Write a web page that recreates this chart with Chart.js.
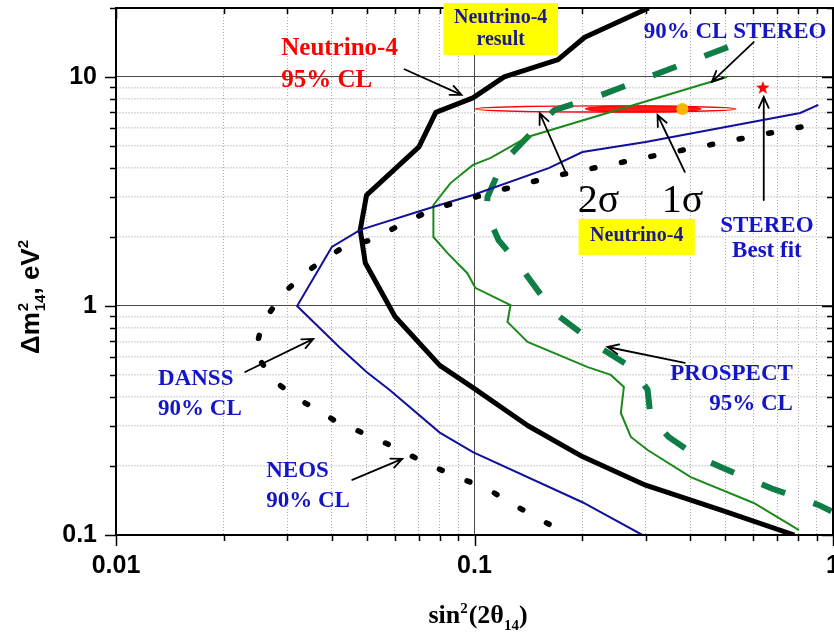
<!DOCTYPE html>
<html>
<head>
<meta charset="utf-8">
<script src="https://cdn.jsdelivr.net/npm/chart.js@4.4.0/dist/chart.umd.min.js"></script>
<style>
  html, body { margin: 0; padding: 0; background: #fff; }
  #wrap { width: 834px; height: 638px; }
</style>
</head>
<body>
<div id="wrap"><canvas id="exclusion"></canvas></div>
<script>
// Neutrino-4 95% CL contour
n4X = [0.306, 0.203, 0.171, 0.121, 0.099, 0.078, 0.070, 0.050, 0.048, 0.0496, 0.060, 0.080, 0.099, 0.141, 0.20, 0.30, 0.49, 0.78]
n4Y = [20, 14.9, 11.9, 10.0, 8.1, 7.0, 4.95, 3.05, 2.15, 1.54, 0.90, 0.55, 0.44, 0.30, 0.22, 0.165, 0.128, 0.1]

// DANSS 90% CL
dansX = [0.91, 0.81, 0.30, 0.20, 0.161, 0.099, 0.077, 0.048, 0.040, 0.032, 0.042, 0.050, 0.058, 0.080, 0.099, 0.20, 0.294]
dansY = [7.55, 6.96, 5.2, 4.7, 4.0, 3.05, 2.71, 2.15, 1.81, 1.0, 0.66, 0.515, 0.43, 0.28, 0.23, 0.139, 0.1]

// NEOS 90% CL
neosX = [0.814, 0.304, 0.168, 0.113, 0.0768, 0.0634, 0.0523, 0.0422, 0.0353, 0.0293, 0.0256, 0.0244, 0.0278, 0.0337, 0.0409, 0.0496, 0.0605, 0.073, 0.0897, 0.1087, 0.132, 0.163]
neosY = [6.05, 4.47, 3.70, 3.15, 2.65, 2.30, 1.96, 1.77, 1.47, 1.14, 0.843, 0.623, 0.466, 0.377, 0.315, 0.276, 0.240, 0.206, 0.179, 0.159, 0.1325, 0.1105]

// STEREO 90% CL
stereoX = [0.506, 0.1406, 0.111, 0.099, 0.0857, 0.0768, 0.0768, 0.0841, 0.0955, 0.1005, 0.126, 0.1236, 0.1406, 0.207, 0.24, 0.261, 0.256, 0.273, 0.304, 0.401, 0.601, 0.804]
stereoY = [10.0, 5.47, 4.43, 4.13, 3.44, 2.76, 2.0, 1.70, 1.39, 1.20, 1.01, 0.851, 0.696, 0.541, 0.50, 0.443, 0.341, 0.268, 0.235, 0.179, 0.138, 0.105]

// PROSPECT 95% CL
prosX = [0.509, 0.226, 0.167, 0.138, 0.1197, 0.1087, 0.108, 0.1167, 0.132, 0.166, 0.2016, 0.229, 0.276, 0.304, 0.310, 0.348, 0.42, 0.486, 0.672, 0.914, 0.99]
prosY = [13.5, 8.35, 7.17, 5.31, 4.21, 2.99, 2.55, 1.94, 1.54, 0.942, 0.747, 0.643, 0.536, 0.430, 0.324, 0.268, 0.219, 0.198, 0.160, 0.135, 0.127]

// best fit points
n4Best = [0.38, 7.25]
stereoBest = [0.637, 8.95]

// Neutrino-4 sigma regions: [x min, x max, y min, y max]
sigma2 = [0.1006, 0.536, 7.03, 7.47]
sigma1 = [0.204, 0.428, 7.03, 7.47]

// axis ticks
xTicks = [0.01, 0.02, 0.03, 0.04, 0.05, 0.06, 0.07, 0.08, 0.09, 0.1, 0.2, 0.3, 0.4, 0.5, 0.6, 0.7, 0.8, 0.9, 1]
yTicks = [0.1, 0.2, 0.3, 0.4, 0.5, 0.6, 0.7, 0.8, 0.9, 1, 2, 3, 4, 5, 6, 7, 8, 9, 10, 20]
xMajor = [0.01, 0.1, 1]
yMajor = [0.1, 1, 10]

SERIF = '"Liberation Serif", "Times New Roman", serif'
SANS = '"Liberation Sans", Arial, sans-serif'
BLUE = '#1515c8'
NAVY = '#1a1a8c'

// text notes, anchored at the first baseline (data coords)
notes = [
  {lines: ['Neutrino-4', '95% CL'], x: 0.0289, y: 12.47, align: 'left', color: '#ff0000', size: 25, gap: 32},
  {lines: ['Neutrino-4', 'result'], x: 0.1183, y: 17.2, align: 'center', color: NAVY, size: 20, gap: 22},
  {lines: ['90% CL STEREO'], x: 0.2965, y: 14.8, align: 'left', color: BLUE, size: 23},
  {lines: ['2\u03c3'], x: 0.194, y: 2.57, align: 'left', color: '#000', size: 40, weight: 'normal'},
  {lines: ['1\u03c3'], x: 0.333, y: 2.57, align: 'left', color: '#000', size: 40, weight: 'normal'},
  {lines: ['Neutrino-4'], x: 0.2835, y: 1.92, align: 'center', color: NAVY, size: 20},
  {lines: ['STEREO', 'Best fit'], x: 0.654, y: 2.10, align: 'center', color: BLUE, size: 23, gap: 25},
  {lines: ['DANSS', '90% CL'], x: 0.0131, y: 0.452, align: 'left', color: BLUE, size: 23, gap: 30},
  {lines: ['NEOS', '90% CL'], x: 0.02625, y: 0.179, align: 'left', color: BLUE, size: 23, gap: 30},
  {lines: ['PROSPECT', '95% CL'], x: 0.773, y: 0.475, align: 'right', color: BLUE, size: 23, gap: 30}
]
yellowBoxes = [
  [0.0819, 0.171, 12.47, 21.0],
  [0.1952, 0.4116, 1.67, 2.40]
]
// arrows: from (x, y) to (x, y), head at the end
arrows = [
  [0.0638, 10.8, 0.092, 8.35],
  [0.601, 14.2, 0.459, 9.51],
  [0.181, 3.73, 0.152, 6.96],
  [0.386, 3.85, 0.324, 6.82],
  [0.641, 2.90, 0.641, 8.18],
  [0.02292, 0.515, 0.0355, 0.718],
  [0.0456, 0.174, 0.0629, 0.215],
  [0.386, 0.564, 0.235, 0.662]
]

function pts(xs, ys) {
  return xs.map((x, i) => ({x: x, y: ys[i]}))
}

function starImage(r, color) {
  var c = document.createElement('canvas')
  c.width = c.height = 2 * r + 2
  var g = c.getContext('2d')
  g.fillStyle = color
  g.beginPath()
  for (var i = 0; i < 10; i++) {
    var a = -Math.PI / 2 + i * Math.PI / 5
    var rr = i % 2 ? r * 0.42 : r
    g.lineTo(r + 1 + rr * Math.cos(a), r + 1 + rr * Math.sin(a))
  }
  g.closePath()
  g.fill()
  return c
}

function drawRich(ctx, parts, x, y) {
  parts.forEach(p => {
    ctx.font = p.font
    ctx.fillText(p.text, x, y + (p.dy || 0))
    var w = ctx.measureText(p.text).width
    if (p.under) {
      ctx.fillText(p.under, x, y + p.dy2)
      w = Math.max(w, ctx.measureText(p.under).width)
    }
    x += w + (p.gap || 0)
  })
}
function richWidth(ctx, parts) {
  var w = 0
  parts.forEach(p => {
    ctx.font = p.font
    var pw = ctx.measureText(p.text).width
    if (p.under) pw = Math.max(pw, ctx.measureText(p.under).width)
    w += pw + (p.gap || 0)
  })
  return w
}

// sigma ellipses, under the curves
sigmaPlugin = {
  id: 'sigma',
  beforeDatasetsDraw(chart) {
    var ctx = chart.ctx, sx = chart.scales.x, sy = chart.scales.y
    ;[[sigma2, false], [sigma1, true]].forEach(([e, filled]) => {
      var x0 = sx.getPixelForValue(e[0]), x1 = sx.getPixelForValue(e[1])
      var y0 = sy.getPixelForValue(e[2]), y1 = sy.getPixelForValue(e[3])
      ctx.save()
      ctx.beginPath()
      ctx.ellipse((x0 + x1) / 2, (y0 + y1) / 2, (x1 - x0) / 2, Math.abs(y1 - y0) / 2, 0, 0, 2 * Math.PI)
      ctx.lineWidth = 1.3
      ctx.strokeStyle = '#ff0000'
      if (filled) { ctx.fillStyle = '#ff1a1a'; ctx.fill() }
      ctx.stroke()
      ctx.restore()
    })
  }
}

// frame, ticks on all four sides, axis titles and notes
overlayPlugin = {
  id: 'overlay',
  afterDraw(chart) {
    var ctx = chart.ctx, a = chart.chartArea
    var sx = chart.scales.x, sy = chart.scales.y
    ctx.save()
    ctx.strokeStyle = '#000'
    ctx.lineWidth = 1.5
    ctx.beginPath()
    xTicks.forEach(v => {
      var p = Math.round(sx.getPixelForValue(v)) + 0.5
      var len = xMajor.includes(v) ? 11 : 6
      ctx.moveTo(p, a.bottom); ctx.lineTo(p, a.bottom + len)
      ctx.moveTo(p, a.top); ctx.lineTo(p, a.top + len)
    })
    yTicks.forEach(v => {
      var p = Math.round(sy.getPixelForValue(v)) + 0.5
      var len = yMajor.includes(v) ? 11 : 6
      ctx.moveTo(a.left, p); ctx.lineTo(a.left - len, p)
      ctx.moveTo(a.right, p); ctx.lineTo(a.right - len, p)
    })
    ctx.stroke()
    ctx.lineWidth = 2
    ctx.strokeRect(a.left, a.top, a.right - a.left, a.bottom - a.top)

    // yellow boxes
    ctx.fillStyle = '#ffff00'
    yellowBoxes.forEach(b => {
      var x0 = sx.getPixelForValue(b[0]), x1 = sx.getPixelForValue(b[1])
      var y0 = sy.getPixelForValue(b[2]), y1 = sy.getPixelForValue(b[3])
      ctx.fillRect(x0, y1, x1 - x0, y0 - y1)
    })

    // notes
    notes.forEach(n => {
      ctx.font = (n.weight || 'bold') + ' ' + n.size + 'px ' + SERIF
      ctx.fillStyle = n.color
      ctx.textAlign = n.align
      ctx.textBaseline = 'alphabetic'
      var x = sx.getPixelForValue(n.x), y = sy.getPixelForValue(n.y)
      n.lines.forEach((t, i) => ctx.fillText(t, x, y + i * (n.gap || 0)))
    })

    // arrows
    ctx.strokeStyle = '#000'
    ctx.lineWidth = 1.8
    ctx.lineCap = 'round'
    arrows.forEach(r => {
      var x0 = sx.getPixelForValue(r[0]), y0 = sy.getPixelForValue(r[1])
      var x1 = sx.getPixelForValue(r[2]), y1 = sy.getPixelForValue(r[3])
      var ang = Math.atan2(y1 - y0, x1 - x0), h = 12, s = 0.42
      ctx.beginPath()
      ctx.moveTo(x0, y0); ctx.lineTo(x1, y1)
      ctx.moveTo(x1 - h * Math.cos(ang - s), y1 - h * Math.sin(ang - s))
      ctx.lineTo(x1, y1)
      ctx.lineTo(x1 - h * Math.cos(ang + s), y1 - h * Math.sin(ang + s))
      ctx.stroke()
    })

    // axis titles
    ctx.fillStyle = '#000'
    ctx.textAlign = 'left'
    var big = 'bold 26px ' + SERIF, small = 'bold 15px ' + SERIF
    var xt = [
      {text: 'sin', font: big},
      {text: '2', font: small, dy: -10, gap: 1},
      {text: '(2\u03b8', font: big},
      {text: '14', font: small, dy: 7},
      {text: ')', font: big}
    ]
    drawRich(ctx, xt, 478 - richWidth(ctx, xt) / 2, 623)

    var ybig = 'bold 26px ' + SANS, ysmall = 'bold 15px ' + SANS
    var yt = [
      {text: '\u0394m', font: ybig, gap: 1},
      {text: '2', font: ysmall, dy: -11, under: '14', dy2: 6},
      {text: ', eV', font: ybig},
      {text: '2', font: ysmall, dy: -11}
    ]
    ctx.translate(39, 297)
    ctx.rotate(-Math.PI / 2)
    drawRich(ctx, yt, -richWidth(ctx, yt) / 2, 0)
    ctx.restore()
  }
}

chartdata = {
  datasets: [
    {label: 'NEOS 90% CL', data: pts(neosX, neosY), showLine: true, pointRadius: 0,
     borderColor: '#000', borderWidth: 5.5, borderDash: [3, 27], borderCapStyle: 'round'},
    {label: 'DANSS 90% CL', data: pts(dansX, dansY), showLine: true, pointRadius: 0,
     borderColor: '#10109c', borderWidth: 2},
    {label: 'STEREO 90% CL', data: pts(stereoX, stereoY), showLine: true, pointRadius: 0,
     borderColor: '#1b8a1b', borderWidth: 2},
    {label: 'PROSPECT 95% CL', data: pts(prosX, prosY), showLine: true, pointRadius: 0,
     borderColor: '#0f7d46', borderWidth: 6, borderDash: [25, 30]},
    {label: 'Neutrino-4 95% CL', data: pts(n4X, n4Y), showLine: true, pointRadius: 0,
     borderColor: '#000', borderWidth: 5, borderJoinStyle: 'round'},
    {label: 'Neutrino-4 best fit', data: [{x: n4Best[0], y: n4Best[1]}], pointRadius: 6,
     pointBackgroundColor: '#ffb400', pointBorderWidth: 0},
    {label: 'STEREO best fit', data: [{x: stereoBest[0], y: stereoBest[1]}],
     pointStyle: starImage(7, '#ff0000'), pointRadius: 7}
  ]
}

tickFont = {family: SANS, size: 25, weight: 'bold'}

config = {
  type: 'scatter',
  data: chartdata,
  options: {
    responsive: true,
    maintainAspectRatio: false,
    devicePixelRatio: 1,
    animation: false,
    layout: {autoPadding: false, padding: {left: 0, right: 1, top: 8, bottom: 0}},
    plugins: {legend: {display: false}, tooltip: {enabled: false}},
    scales: {
      x: {
        type: 'logarithmic', min: 0.01, max: 1,
        afterBuildTicks: s => { s.ticks = xTicks.map(v => ({value: v})) },
        afterFit: s => { s.height = 103; s.paddingLeft = 0; s.paddingRight = 0 },
        ticks: {
          autoSkip: false, maxRotation: 0, padding: 16, color: '#000', font: tickFont,
          callback: v => xMajor.includes(v) ? String(v) : ''
        },
        grid: {
          drawTicks: false, lineWidth: 1,
          color: c => c.tick && xMajor.includes(c.tick.value) ? '#4a4a4a' : '#ababab'
        },
        border: {display: false, dash: c => c.tick && xMajor.includes(c.tick.value) ? [] : [1, 2]}
      },
      y: {
        type: 'logarithmic', min: 0.1, max: 20,
        afterBuildTicks: s => { s.ticks = yTicks.map(v => ({value: v})) },
        afterFit: s => { s.width = 116; s.paddingTop = 0; s.paddingBottom = 0 },
        ticks: {
          autoSkip: false, padding: 19, color: '#000', font: tickFont,
          callback: v => yMajor.includes(v) ? String(v) : ''
        },
        grid: {
          drawTicks: false,
          lineWidth: c => c.tick && yMajor.includes(c.tick.value) ? 1 : 1.5,
          color: c => c.tick && yMajor.includes(c.tick.value) ? '#4a4a4a' : '#dcdcdc'
        },
        border: {display: false, dash: c => c.tick && yMajor.includes(c.tick.value) ? [] : [2, 1]}
      }
    }
  },
  plugins: [sigmaPlugin, overlayPlugin]
}

var myChart = new Chart(document.getElementById('exclusion'), config)
</script>
</body>
</html>
